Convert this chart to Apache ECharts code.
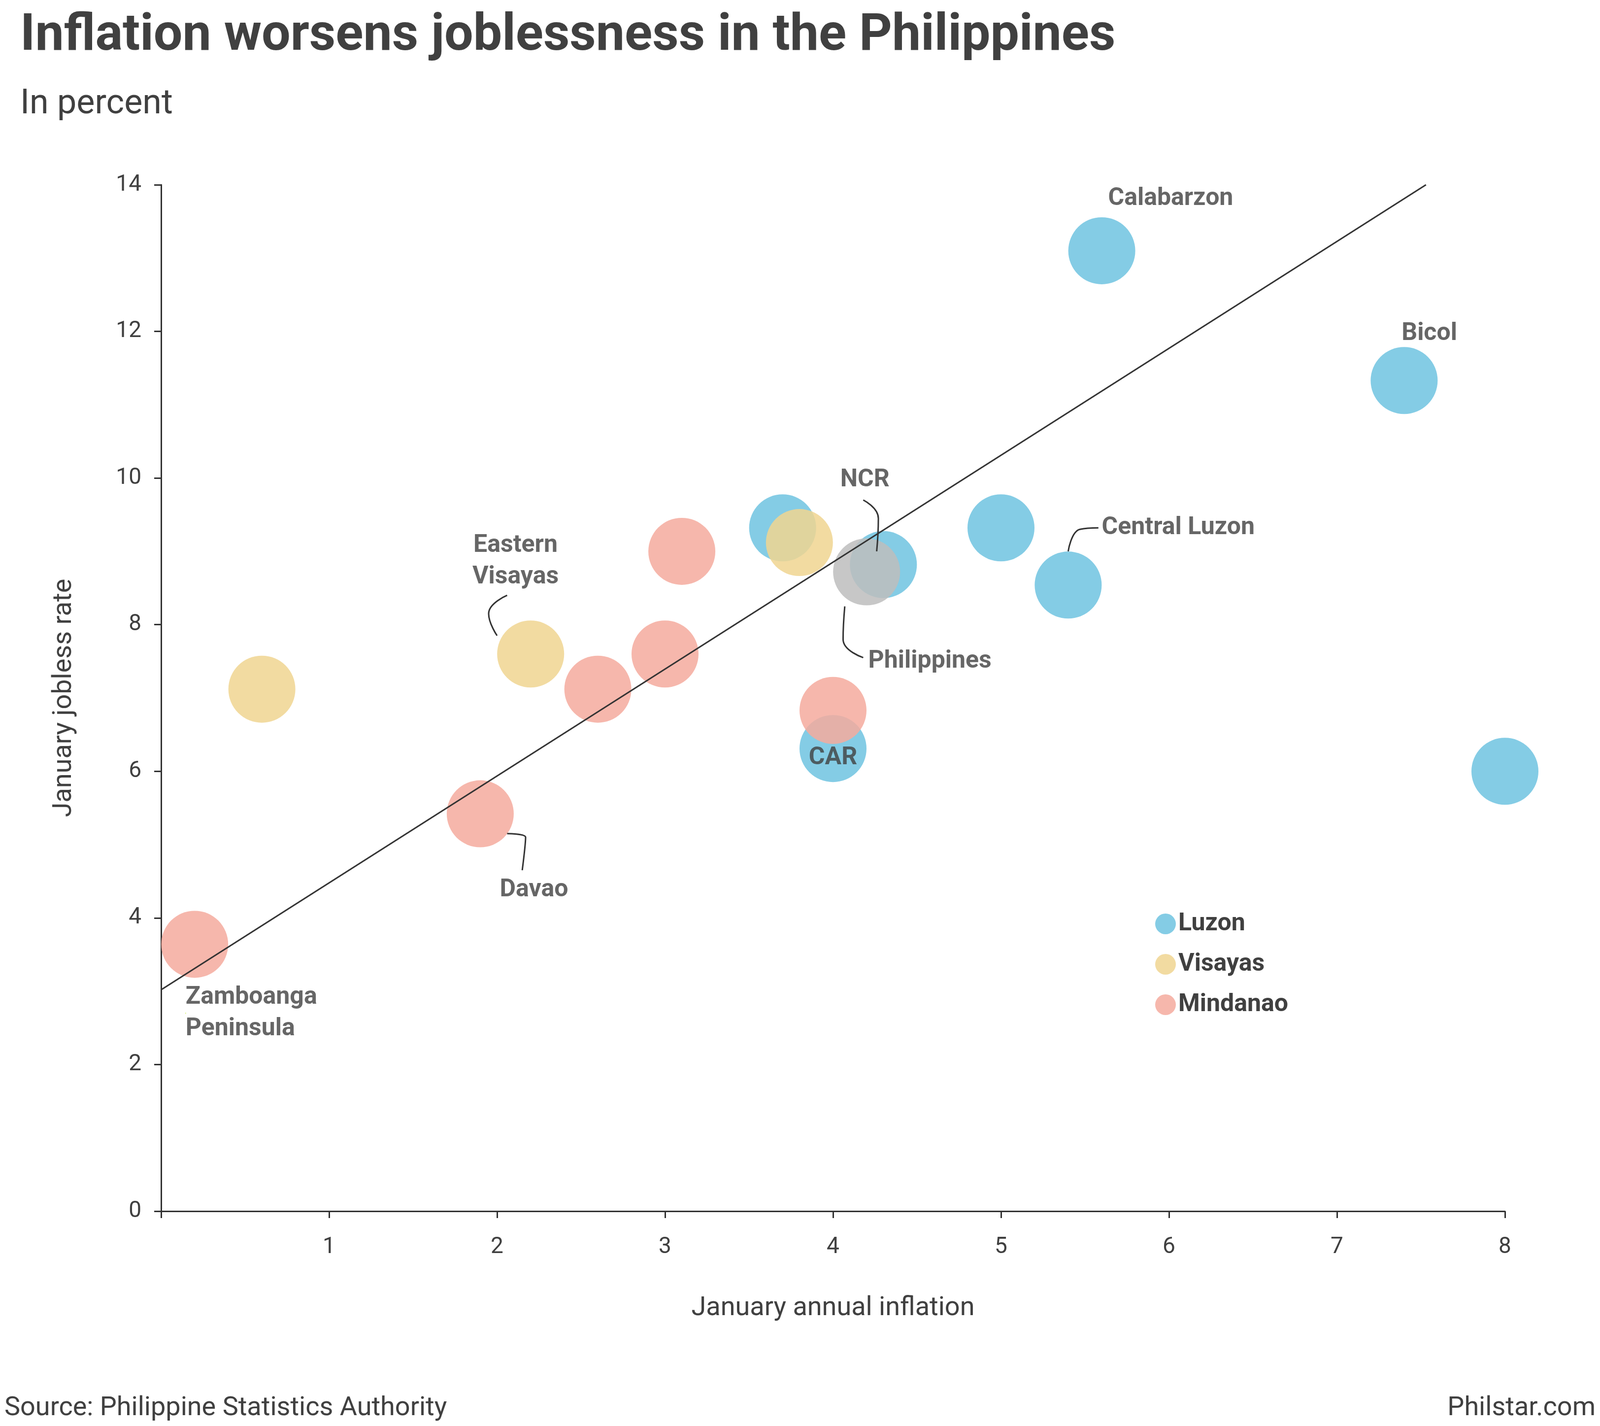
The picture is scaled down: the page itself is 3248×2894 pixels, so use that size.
<!DOCTYPE html>
<html>
<head>
<meta charset="utf-8">
<script src="https://cdn.jsdelivr.net/npm/echarts@6/dist/echarts.min.js"></script>
<style>html,body{margin:0;padding:0;background:#fff}#c{width:3248px;height:2894px}</style>
</head>
<body>
<div id="c"></div>
<script>
// [inflation, jobless rate]
var luzon = [[5.6, 13.1], [7.4, 11.33], [8.0, 6.0], [3.7, 9.32], [5.0, 9.32], [5.4, 8.54], [4.0, 6.31], [4.3, 8.82]];
var visayas = [[0.6, 7.12], [2.2, 7.6], [3.8, 9.12]];
var mindanao = [[3.1, 9.0], [3.0, 7.6], [2.6, 7.12], [4.0, 6.83], [1.9, 5.42], [0.2, 3.64]];
var philippines = [[4.2, 8.72]];
var trend = [[0, 3.02], [7.53, 14]];
var xTicks = [0, 1, 2, 3, 4, 5, 6, 7, 8];
var yTicks = [0, 2, 4, 6, 8, 10, 12, 14];
// annotation text anchors [x, y, text, align]
var labels = [
  [6.01, 13.81, 'Calabarzon', 'center'],
  [7.55, 11.97, 'Bicol', 'center'],
  [4.19, 9.97, 'NCR', 'center'],
  [5.6, 9.32, 'Central Luzon', 'left'],
  [2.11, 8.86, 'Eastern\nVisayas', 'center'],
  [4.21, 7.5, 'Philippines', 'left'],
  [4.0, 6.18, 'CAR', 'center'],
  [2.22, 4.38, 'Davao', 'center'],
  [0.146, 2.7, 'Zamboanga\nPeninsula', 'left']
];
var leaders = [
  [[4.26, 9.0], [4.27, 9.45], [4.18, 9.7]],
  [[5.4, 9.0], [5.47, 9.3], [5.58, 9.32]],
  [[2.0, 7.85], [1.95, 8.15], [2.06, 8.4]],
  [[4.07, 8.25], [4.06, 7.8], [4.18, 7.55]],
  [[2.06, 5.15], [2.17, 5.1], [2.15, 4.65]]
];

var chart = echarts.init(document.getElementById('c'));
var font = 'Roboto, "Noto Sans", sans-serif';
var bubble = 136;
function sc(name, data, color) {
  return { name: name, type: 'scatter', data: data, symbolSize: bubble,
    itemStyle: { color: color, opacity: 0.85 }, z: 3 };
}
var series = [
  { type: 'line', data: trend, symbol: 'none', lineStyle: { color: '#333', width: 3 }, z: 5, silent: true },
  sc('Luzon', luzon, '#6ec3e0'),
  sc('Visayas', visayas, '#f0d590'),
  sc('Mindanao', mindanao, '#f5aa9e'),
  sc('Philippines', philippines, '#bdbdbd'),
  { type: 'scatter', symbolSize: 0, z: 10,
    data: labels.map(function (l) {
      return { value: [l[0], l[1]], label: { show: true, position: 'inside', formatter: l[2], align: l[3] } };
    }),
    label: { color: '#404040', fontSize: 50, fontWeight: 'bold', fontFamily: font, lineHeight: 64 } }
];
leaders.forEach(function (p) {
  series.push({ type: 'line', data: p, smooth: true, symbol: 'none', z: 6,
    lineStyle: { color: '#333', width: 3 } });
});

chart.setOption({
  animation: false,
  backgroundColor: '#fff',
  title: [
    { text: 'Inflation worsens joblessness in the Philippines', left: 36, top: 18,
      textStyle: { fontFamily: font, fontWeight: 'bold', fontSize: 104, color: '#404040' } },
    { text: 'In percent', left: 36, top: 172,
      textStyle: { fontFamily: font, fontWeight: 'normal', fontSize: 70, color: '#404040' } },
    { text: 'Source: Philippine Statistics Authority', left: 4, bottom: 4,
      textStyle: { fontFamily: font, fontWeight: 'normal', fontSize: 54, color: '#404040' } },
    { text: 'Philstar.com', right: 4, bottom: 4,
      textStyle: { fontFamily: font, fontWeight: 'normal', fontSize: 54, color: '#404040' } }
  ],
  legend: {
    data: ['Luzon', 'Visayas', 'Mindanao'], orient: 'vertical', left: 2340, top: 1845,
    icon: 'circle', itemWidth: 42, itemHeight: 42, itemGap: 32,
    textStyle: { fontFamily: font, fontSize: 50, fontWeight: 'bold', color: '#404040' }
  },
  grid: { left: 327, right: 193, top: 375, bottom: 436 },
  xAxis: {
    type: 'value', min: 0, max: 8, interval: 1,
    name: 'January annual inflation', nameLocation: 'middle', nameGap: 170,
    nameTextStyle: { fontFamily: font, fontSize: 54, color: '#404040' },
    axisLine: { lineStyle: { color: '#333', width: 3 } },
    axisTick: { show: true, length: 14, lineStyle: { color: '#333', width: 3 } },
    axisLabel: { fontFamily: font, fontSize: 46, color: '#404040', margin: 50,
      formatter: function (v) { return v === 0 ? '' : v; } },
    splitLine: { show: false }
  },
  yAxis: {
    type: 'value', min: 0, max: 14, interval: 2,
    name: 'January jobless rate', nameLocation: 'middle', nameGap: 170,
    nameTextStyle: { fontFamily: font, fontSize: 54, color: '#404040' },
    axisLine: { show: true, lineStyle: { color: '#333', width: 3 } },
    axisTick: { show: true, length: 14, lineStyle: { color: '#333', width: 3 } },
    axisLabel: { fontFamily: font, fontSize: 46, color: '#404040', margin: 40 },
    splitLine: { show: false }
  },
  series: series
});
</script>
</body>
</html>
